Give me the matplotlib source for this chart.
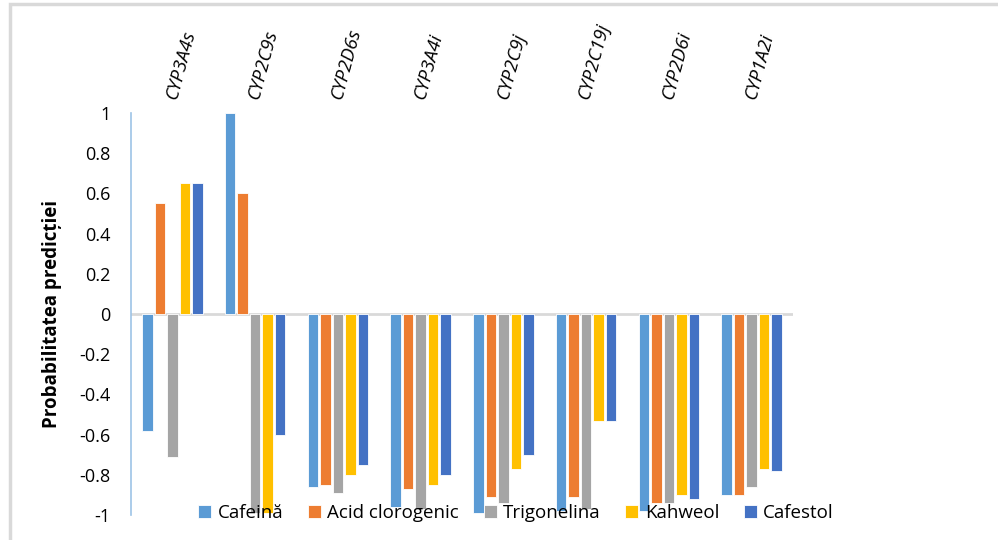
import numpy as np
import matplotlib.pyplot as plt
from matplotlib.patches import Rectangle

plt.rcParams['font.family'] = ['Open Sans', 'DejaVu Sans']

# categories (enzymes) and series values
enzymes = ['CYP3A4s', 'CYP2C9s', 'CYP2D6s', 'CYP3A4i', 'CYP2C9j', 'CYP2C19j', 'CYP2D6i', 'CYP1A2i']
series = ['Cafeină', 'Acid clorogenic', 'Trigonelina', 'Kahweol', 'Cafestol']

cafeina     = [-0.58, 1.00, -0.86, -0.96, -0.99, -0.98, -0.98, -0.90]
acid_clorog = [0.55, 0.60, -0.85, -0.87, -0.91, -0.91, -0.94, -0.90]
trigonelina = [-0.71, -0.99, -0.89, -0.97, -0.94, -0.97, -0.94, -0.86]
kahweol     = [0.65, -0.99, -0.80, -0.85, -0.77, -0.53, -0.90, -0.77]
cafestol    = [0.65, -0.60, -0.75, -0.80, -0.70, -0.53, -0.92, -0.78]

values = [cafeina, acid_clorog, trigonelina, kahweol, cafestol]
colors = ['#5B9BD5', '#ED7D31', '#A5A5A5', '#FFC000', '#4472C4']

fig = plt.figure(figsize=(9.98, 5.4), dpi=100)
ax = fig.add_axes([0.1313, 0.0463, 0.6633, 0.7444])

# light grey frame (chart area border, partly cropped)
fig.patches.append(Rectangle((10/998, -0.05), 1.2, 1 - 4/540 + 0.05,
                             transform=fig.transFigure, fill=False,
                             edgecolor='#D9D9D9', linewidth=2.5))

x = np.arange(len(enzymes))
slot = 0.151
width = 0.128
for k, (vals, name, col) in enumerate(zip(values, series, colors)):
    ax.bar(x + (k - 2) * slot, vals, width, color=col, label=name,
           edgecolor='white', linewidth=0.6, zorder=3)

ax.set_xlim(-0.5, len(enzymes) - 0.5)
ax.set_ylim(-1, 1)
ax.set_yticks(np.arange(-1, 1.01, 0.2))
ax.set_yticklabels(['-1', '-0.8', '-0.6', '-0.4', '-0.2', '0', '0.2', '0.4', '0.6', '0.8', '1'])
ax.tick_params(axis='y', length=0, pad=15, labelsize=13)
ax.set_xticks([])

for s in ['top', 'right', 'bottom']:
    ax.spines[s].set_visible(False)
ax.spines['left'].set_color('#9DC3E6')
ax.spines['left'].set_linewidth(1.2)
ax.axhline(0, color='#D9D9D9', linewidth=2, zorder=2)

# category labels above the plot
for i, name in enumerate(enzymes):
    ax.text(i + 0.1, 1.03, name, transform=ax.get_xaxis_transform(),
            rotation=75, ha='center', va='bottom', fontsize=13.5, style='italic')

ax.set_ylabel('Probabilitatea predicției', fontsize=13.5, fontweight='bold')
ax.yaxis.set_label_coords(-0.104, 0.5)

fig.legend(loc='center', bbox_to_anchor=(516/998, 1 - 513/540), ncol=5,
           frameon=False, fontsize=13.5, handlelength=0.7, handleheight=0.7,
           handletextpad=0.35, columnspacing=1.3)

fig.savefig('out.png', dpi=100)
